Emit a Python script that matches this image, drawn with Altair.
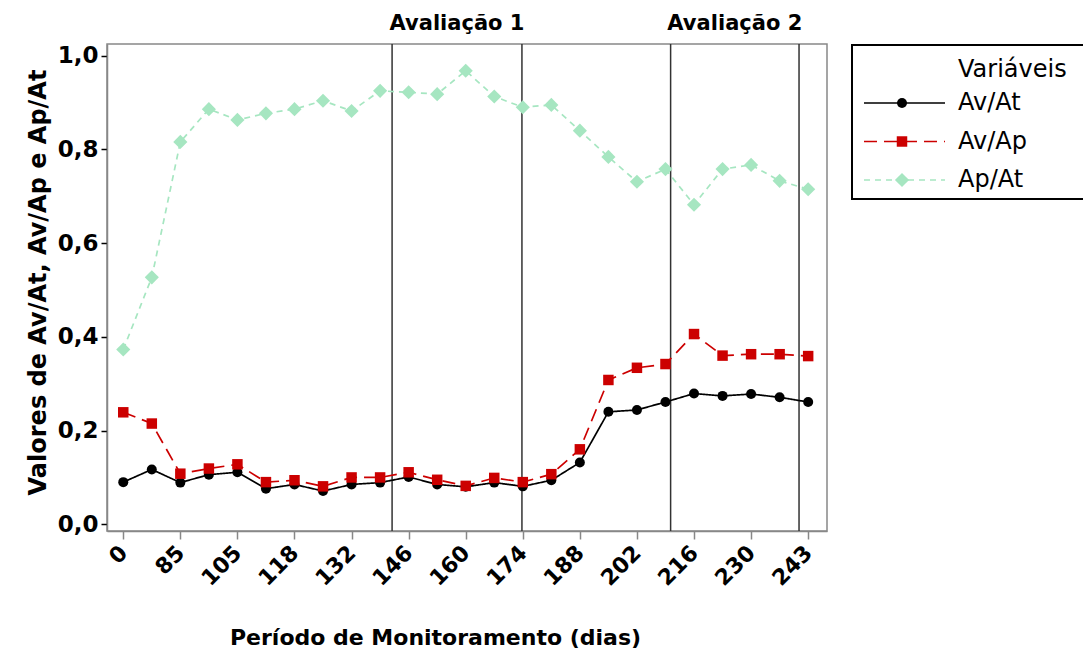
import altair as alt
import pandas as pd

# Series names and their values at each of the 25 monitoring samples
series = ["Av/At", "Av/Ap", "Ap/At"]
av_at = [0.090, 0.117, 0.089, 0.106, 0.111, 0.076, 0.085, 0.071, 0.085, 0.089,
         0.101, 0.085, 0.080, 0.089, 0.081, 0.094, 0.132, 0.240, 0.244, 0.261,
         0.279, 0.274, 0.278, 0.271, 0.261]
av_ap = [0.239, 0.215, 0.108, 0.119, 0.128, 0.090, 0.094, 0.081, 0.100, 0.100,
         0.111, 0.095, 0.082, 0.099, 0.090, 0.107, 0.160, 0.308, 0.334, 0.342,
         0.406, 0.360, 0.363, 0.363, 0.359]
ap_at = [0.373, 0.527, 0.816, 0.886, 0.863, 0.877, 0.886, 0.904, 0.882, 0.925,
         0.922, 0.918, 0.968, 0.913, 0.890, 0.895, 0.840, 0.784, 0.731, 0.758,
         0.682, 0.758, 0.767, 0.733, 0.715]

# Day labels shown on every other sample
rotulos_dias = ["0", "85", "105", "118", "132", "146", "160", "174", "188",
                "202", "216", "230", "243"]

# Reference lines bounding the two evaluation windows (sample positions)
marcos_avaliacao = [9.42, 13.97, 19.18, 23.68]
avaliacoes = ["Avaliação 1", "Avaliação 2"]

estilo = {
    "Av/At": dict(cor="#000000", traco=[1, 0], forma="circle", tamanho=100),
    "Av/Ap": dict(cor="#cc0000", traco=[13, 7], forma="square", tamanho=110),
    "Ap/At": dict(cor="#a6e6c1", traco=[6, 5], forma="diamond", tamanho=200),
}
FONTE = "DejaVu Sans"

n = len(av_at)
df = pd.DataFrame({
    "idx": list(range(n)) * 3,
    "serie": [s for s in series for _ in range(n)],
    "valor": av_at + av_ap + ap_at,
})
df_marcos = pd.DataFrame({"idx": marcos_avaliacao})
df_aval = pd.DataFrame({
    "idx": [(marcos_avaliacao[0] + marcos_avaliacao[1]) / 2,
            (marcos_avaliacao[2] + marcos_avaliacao[3]) / 2],
    "rotulo": avaliacoes,
})
df_leg = pd.DataFrame({"serie": series})

label_x = "[" + ",".join(f"'{r}'" for r in rotulos_dias) + "][round(datum.value/2)]"

x_enc = alt.X(
    "idx:Q",
    scale=alt.Scale(domain=[-0.57, 24.66], nice=False, zero=False),
    axis=alt.Axis(
        values=list(range(0, n, 2)), labelExpr=label_x, title="Período de Monitoramento (dias)",
        grid=False, labelAngle=315, labelAlign="right", labelBaseline="middle",
        labelFont=FONTE, labelFontSize=22, labelFontWeight="bold", labelColor="#000",
        labelPadding=10, tickSize=8, tickColor="#888", tickWidth=1.5,
        domainColor="#888", domainWidth=1.5,
        titleFont=FONTE, titleFontSize=22, titleFontWeight="bold", titleColor="#000",
        titleY=106, titleX=328, titleBaseline="middle",
    ),
)
y_enc = alt.Y(
    "valor:Q",
    scale=alt.Scale(domain=[-0.0143, 1.025], nice=False, zero=False),
    axis=alt.Axis(
        values=[0, 0.2, 0.4, 0.6, 0.8, 1.0],
        labelExpr="replace(format(datum.value, '.1f'), '.', ',')",
        title="Valores de Av/At, Av/Ap e Ap/At", grid=False,
        labelFont=FONTE, labelFontSize=23, labelFontWeight="bold", labelColor="#000",
        labelPadding=3, tickSize=6, tickColor="#000", tickWidth=1.5,
        domainColor="#888", domainWidth=1.5,
        titleFont=FONTE, titleFontSize=24, titleFontWeight="bold", titleColor="#000",
        titleX=-69, titleY=238, titleBaseline="middle",
    ),
)

marcos = alt.Chart(df_marcos).mark_rule(color="#333333", strokeWidth=1.5).encode(x=x_enc)

# Legend row positions (pixels from the top of the plot area)
y_leg = alt.Y("serie:N", scale=alt.Scale(type="point", domain=series, range=[59, 136], padding=0), axis=None)

ordem = ["Ap/At", "Av/At", "Av/Ap"]
camadas = [marcos]
leg_camadas = []
for s in ordem:
    e = estilo[s]
    sub = alt.Chart(df).transform_filter(alt.datum.serie == s)
    camadas.append(sub.mark_line(strokeWidth=1.7, color=e["cor"], strokeDash=e["traco"])
                   .encode(x=x_enc, y=y_enc))
    camadas.append(sub.mark_point(filled=True, opacity=1, color=e["cor"], shape=e["forma"],
                                  size=e["tamanho"]).encode(x=x_enc, y=y_enc))
    leg = alt.Chart(df_leg).transform_filter(alt.datum.serie == s)
    leg_camadas.append(leg.mark_rule(strokeWidth=1.7, color=e["cor"], strokeDash=e["traco"])
                       .encode(x=alt.value(757), x2=alt.value(838), y=y_leg))
    leg_camadas.append(leg.mark_point(filled=True, opacity=1, color=e["cor"], shape=e["forma"],
                                      size=e["tamanho"]).encode(x=alt.value(795), y=y_leg))

textos_aval = alt.Chart(df_aval).mark_text(
    font=FONTE, fontSize=21, fontWeight="bold", color="#000", baseline="middle"
).encode(x=x_enc, text="rotulo:N", y=alt.value(-20))

# Legend box, title and entry labels to the right of the plot
leg_caixa = alt.Chart(pd.DataFrame({"t": [0]})).mark_rect(
    fill="white", stroke="#000", strokeWidth=2
).encode(x=alt.value(745), x2=alt.value(1000), y=alt.value(1), y2=alt.value(155))
leg_titulo = alt.Chart(pd.DataFrame({"t": ["Variáveis"]})).mark_text(
    font=FONTE, fontSize=24, align="left", baseline="middle", color="#000"
).encode(x=alt.value(851), y=alt.value(26), text="t:N")
leg_textos = alt.Chart(df_leg).mark_text(
    font=FONTE, fontSize=24, align="left", baseline="middle", color="#000"
).encode(x=alt.value(851), y=y_leg, text="serie:N")

principal = alt.layer(*camadas, textos_aval)
legenda = alt.layer(leg_caixa, leg_titulo, *leg_camadas, leg_textos)

chart = alt.layer(principal, legenda).resolve_scale(y="independent").properties(
    width=720, height=487,
    padding={"left": 107, "top": 44, "right": 256, "bottom": 121},
    autosize=alt.AutoSizeParams(type="none"),
    background="white",
).configure_view(stroke="#888888", strokeWidth=1.5)

chart.save("out.html", embed_options={"renderer": "svg", "actions": False})
